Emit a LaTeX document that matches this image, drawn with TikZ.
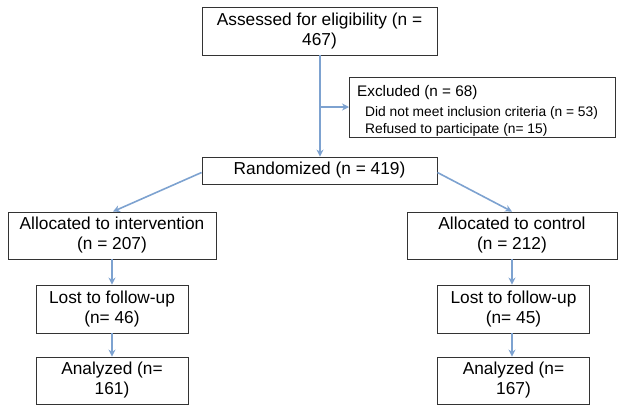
\documentclass[tikz,border=0pt]{standalone}
\usepackage{fontspec}
\setmainfont{Liberation Sans}
\usetikzlibrary{arrows.meta}
\definecolor{arrowblue}{RGB}{125,162,208}
\begin{document}
\begin{tikzpicture}[x=1pt,y=-1pt,
  box/.style={draw=black!80,line width=0.9pt,rectangle,inner sep=0pt,align=center,
    font=\fontsize{17.3}{20}\selectfont},
  lbl/.style={inner sep=0pt,anchor=base west},
  conn/.style={draw=arrowblue,line width=1.6pt,-{Stealth[length=7pt,width=7pt]}}]
\useasboundingbox (0,0) rectangle (624,413);
\node[box,minimum width=235pt,minimum height=48pt] (assess) at (319.5,31) {Assessed for eligibility (n =\\467)};
\node[box,minimum width=266pt,minimum height=60pt,anchor=north west] (excl) at (349,77) {};
\node[lbl,font=\fontsize{15.3}{18}\selectfont] (exh) at (357,96.7) {Excluded (n = 68)};
\node[lbl,font=\fontsize{13.8}{17}\selectfont] (ex1) at (365,116) {Did not meet inclusion criteria (n = 53)};
\node[lbl,font=\fontsize{13.8}{17}\selectfont] (ex2) at (365,133.3) {Refused to participate (n= 15)};
\node[box,minimum width=235pt,minimum height=27pt] (rand) at (319.5,170.5) {Randomized (n = 419)};
\node[box,minimum width=208pt,minimum height=47pt] (allocI) at (112,235.5) {Allocated to intervention\\(n = 207)};
\node[box,minimum width=210pt,minimum height=47pt] (allocC) at (512,235.5) {Allocated to control\\(n = 212)};
\node[box,minimum width=152pt,minimum height=48pt] (lostI) at (112,309) {Lost to follow-up\\(n= 46)};
\node[box,minimum width=152pt,minimum height=48pt] (lostC) at (513.5,309) {Lost to follow-up\\(n= 45)};
\node[box,minimum width=152pt,minimum height=47pt] (anaI) at (112,380.5) {Analyzed (n=\\161)};
\node[box,minimum width=152pt,minimum height=47pt] (anaC) at (513.5,380.5) {Analyzed (n=\\167)};
\coordinate (branch) at (320,107);
\draw[conn] (assess.south -| branch) -- (rand.north -| branch);
\draw[conn] (branch) -- (excl.west |- branch);
\draw[conn] ([yshift=-2pt]rand.west) -- ([xshift=1pt]allocI.north);
\draw[conn] ([yshift=-2pt]rand.east) -- (allocC.north);
\draw[conn] (allocI.south) -- (lostI.north -| allocI.south);
\draw[conn] (allocC.south) -- (lostC.north -| allocC.south);
\draw[conn] (lostI.south) -- (anaI.north);
\draw[conn] (lostC.south -| allocC.south) -- (anaC.north -| allocC.south);
\end{tikzpicture}
\end{document}
